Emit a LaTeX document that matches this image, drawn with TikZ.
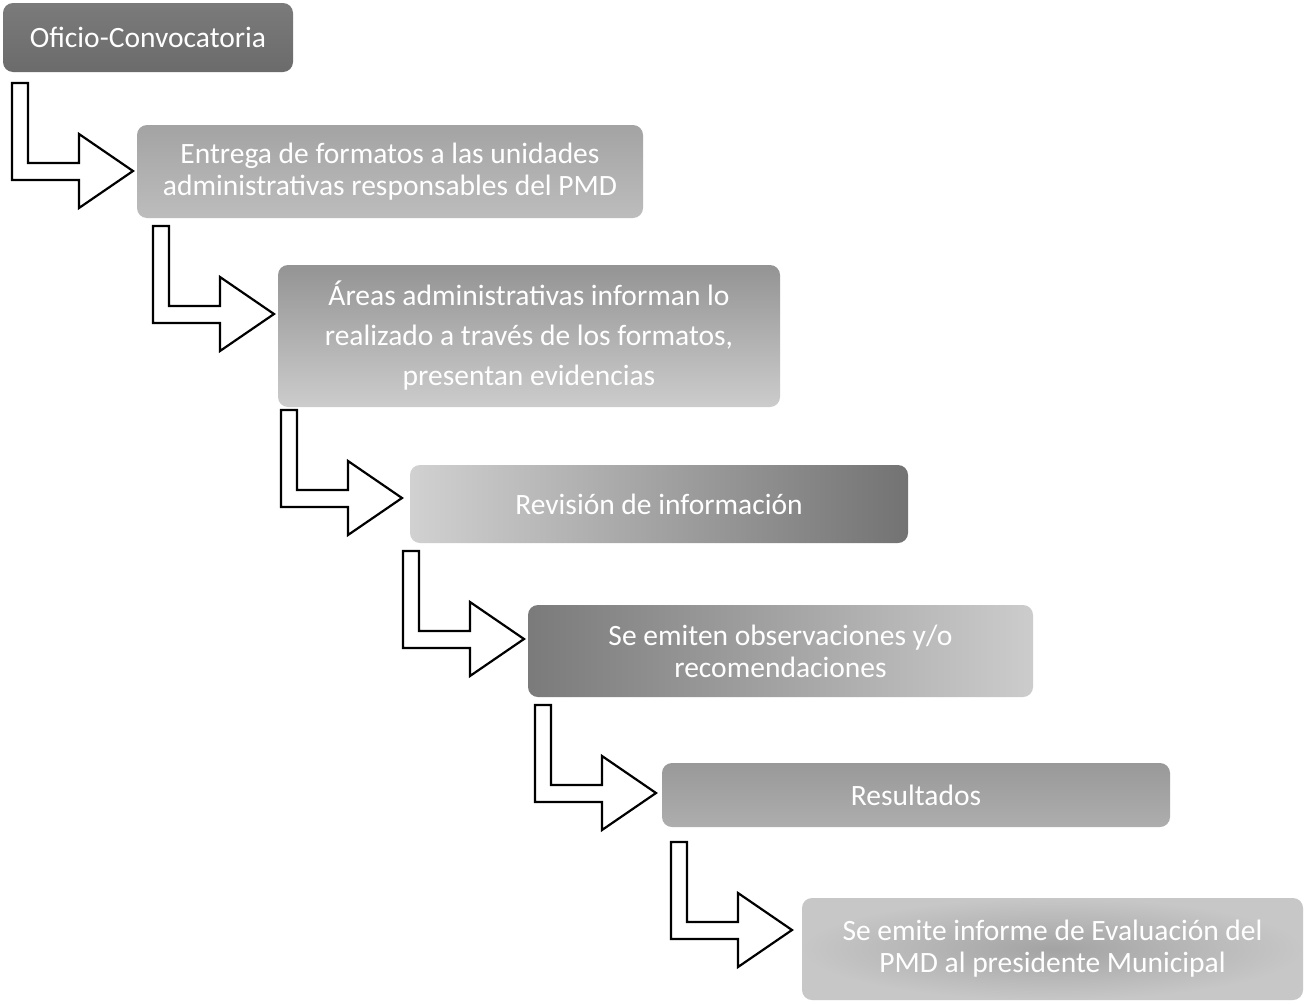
\documentclass[tikz,border=0pt]{standalone}
\usepackage{fontspec}
\setmainfont{Carlito}
\begin{document}
\begin{tikzpicture}[x=1pt,y=-1pt,
  stepbox/.style={rounded corners=10pt, draw=none, align=center, text=white,
    font=\fontsize{29.5}{36}\selectfont, inner sep=0pt},
  bent/.pic={\draw[line width=2.2pt, fill=white, line join=miter]
     (0,0) -- (16,0) -- (16,80) -- (67,80) -- (67,51) -- (121,88) -- (67,125) -- (67,97) -- (0,97) -- cycle;}]
\useasboundingbox (0,0) rectangle (1307,1004);
\fill[white] (0,0) rectangle (1307,1004);

\node[stepbox, minimum width=290pt, minimum height=69pt, top color=black!52, bottom color=black!58] (b1) at (148,37.5) {Oficio-Convocatoria};
\node[stepbox, minimum width=506pt, minimum height=93pt, top color=black!36, bottom color=black!26, font=\fontsize{29.5}{32}\selectfont] (b2) at (390,171.5) {Entrega de formatos a las unidades\\administrativas responsables del PMD};
\node[stepbox, minimum width=502pt, minimum height=142pt, top color=black!42, bottom color=black!20, font=\fontsize{29.5}{40}\selectfont] (b3) at (529,336) {Áreas administrativas informan lo\\realizado a través de los formatos,\\presentan evidencias};
\node[stepbox, minimum width=498pt, minimum height=78pt, left color=black!18, right color=black!55] (b4) at (659,504) {Revisión de información};
\node[stepbox, minimum width=505pt, minimum height=92pt, left color=black!52, right color=black!20, font=\fontsize{29.5}{32}\selectfont] (b5) at (780.5,651) {Se emiten observaciones y/o\\recomendaciones};
\node[stepbox, minimum width=508pt, minimum height=64pt, top color=black!40, bottom color=black!32] (b6) at (916,795) {Resultados};
\node[stepbox, minimum width=501pt, minimum height=102pt, inner color=black!36, outer color=black!22, font=\fontsize{29.5}{32}\selectfont] (b7) at (1052.5,949) {Se emite informe de Evaluación del\\PMD al presidente Municipal};

\pic at (12,83) {bent};
\pic at (153,226) {bent};
\pic at (281,410) {bent};
\pic at (403,551) {bent};
\pic at (535,705) {bent};
\pic at (671,842) {bent};
\end{tikzpicture}
\end{document}
